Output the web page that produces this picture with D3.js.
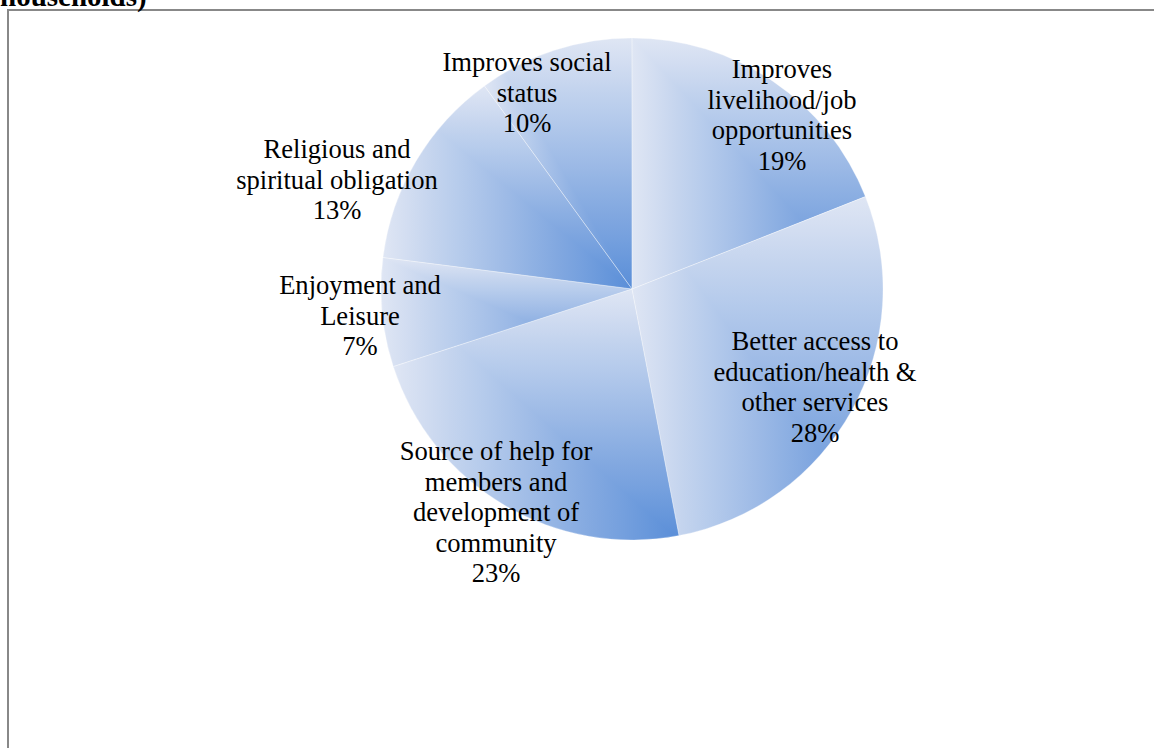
<!DOCTYPE html>
<html><head><meta charset="utf-8">
<script src="https://cdn.jsdelivr.net/npm/d3@7"></script>
<style>html,body{margin:0;padding:0;background:#fff;overflow:hidden}</style>
</head><body><svg id="c" width="1154" height="748"></svg>
<script>
const categories = [
  "Improves livelihood/job opportunities",
  "Better access to education/health & other services",
  "Source of help for members and development of community",
  "Enjoyment and Leisure",
  "Religious and spiritual obligation",
  "Improves social status"
];
const values = [19, 28, 23, 7, 13, 10];
const labelLines = [
  ["Improves", "livelihood/job", "opportunities"],
  ["Better access to", "education/health &", "other services"],
  ["Source of help for", "members and", "development of", "community"],
  ["Enjoyment and", "Leisure"],
  ["Religious and", "spiritual obligation"],
  ["Improves social", "status"]
];
const titleText = "households)";

// layout (not data)
const W = 1154, H = 748;
const cx = 632, cy = 289, R = 251;
const labelOffsets = [[150, -211], [183, 61], [-136, 171], [-272, 5], [-295, -131], [-105, -218]];
const fontSize = 26.6, lineH = 30.6;
const darkCol = "#5a8ed8", lightCol = "#dfe6f4";

const svg = d3.select("#c");
const defs = svg.append("defs");

// frame
svg.append("rect").attr("x", 8).attr("y", 10).attr("width", W + 20).attr("height", H + 20)
  .attr("fill", "none").attr("stroke", "#888").attr("stroke-width", 2);

// title (cut off at the top, as in the reference)
svg.append("text").attr("x", 0).attr("y", 6)
  .attr("font-family", "'Liberation Serif','Times New Roman',serif")
  .attr("font-weight", "bold").attr("font-size", 29).text(titleText);

const pie = d3.pie().sort(null).value(d => d);
const arcs = pie(values);
const arcGen = d3.arc().innerRadius(0).outerRadius(R);

const g = svg.append("g").attr("transform", `translate(${cx},${cy})`);
const interp = d3.interpolateRgb(darkCol, lightCol);

arcs.forEach((a, i) => {
  const p = arcGen(a);
  const tmp = g.append("path").attr("d", p);
  const bb = tmp.node().getBBox();
  tmp.remove();
  defs.append("clipPath").attr("id", "clip" + i).append("path").attr("d", p);
  const gx = defs.append("linearGradient").attr("id", "gx" + i)
    .attr("x1", 1).attr("y1", 0).attr("x2", 0).attr("y2", 0);
  const gy = defs.append("linearGradient").attr("id", "gy" + i)
    .attr("x1", 0).attr("y1", 1).attr("x2", 0).attr("y2", 0);
  [gx, gy].forEach(gr => {
    d3.range(0, 11).forEach(k => {
      const t = k / 10;
      gr.append("stop").attr("offset", t).attr("stop-color", interp(t));
    });
  });
  const sg = g.append("g").attr("clip-path", `url(#clip${i})`).style("isolation", "isolate");
  sg.append("rect").attr("x", bb.x).attr("y", bb.y).attr("width", bb.width).attr("height", bb.height)
    .attr("fill", `url(#gx${i})`);
  sg.append("rect").attr("x", bb.x).attr("y", bb.y).attr("width", bb.width).attr("height", bb.height)
    .attr("fill", `url(#gy${i})`).style("mix-blend-mode", "lighten");
});

g.selectAll("path.sep").data(arcs).enter().append("path").attr("class", "sep")
  .attr("d", arcGen).attr("fill", "none").attr("stroke", "#ffffff")
  .attr("stroke-width", 0.6).attr("stroke-opacity", 0.45);

// labels
arcs.forEach((a, i) => {
  const lines = labelLines[i].concat([values[i] + "%"]);
  const t = g.append("text")
    .attr("font-family", "'Liberation Serif','Times New Roman',serif")
    .attr("font-size", fontSize).attr("fill", "#000").attr("text-anchor", "middle");
  lines.forEach((ln, k) => {
    t.append("tspan").attr("x", labelOffsets[i][0]).attr("y", labelOffsets[i][1] + k * lineH).text(ln);
  });
});
</script>
</body></html>
